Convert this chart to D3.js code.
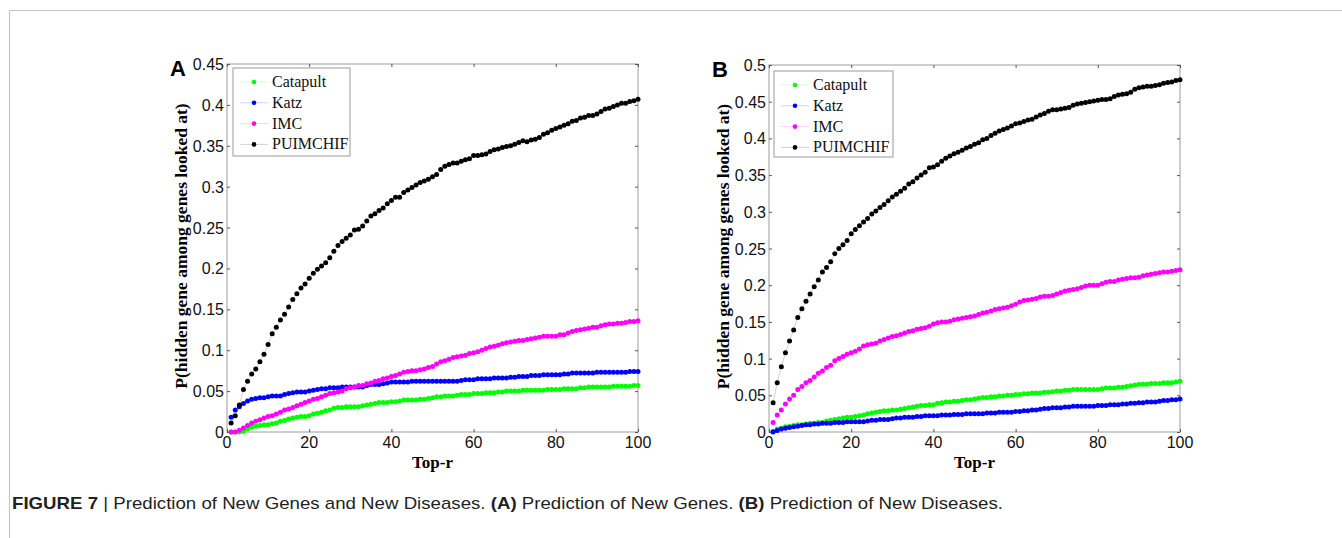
<!DOCTYPE html>
<html>
<head>
<meta charset="utf-8">
<script src="https://cdn.jsdelivr.net/npm/d3@7"></script>
<style>
	body { margin: 0; background: #fff; }
	svg { display: block; }
</style>
</head>
<body>
<div id="chart-area"></div>
<script>

// data (Top-r = 1..100)
var topR = d3.range(1, 101);
var seriesNames = ["Catapult", "Katz", "IMC", "PUIMCHIF"];
var seriesColors = ["#00ff00", "#0000ff", "#ff00ff", "#000000"];
var xTicks = [0, 20, 40, 60, 80, 100];
var yTicksA = [0, 0.05, 0.1, 0.15, 0.2, 0.25, 0.3, 0.35, 0.4, 0.45];
var yTicksB = [0, 0.05, 0.1, 0.15, 0.2, 0.25, 0.3, 0.35, 0.4, 0.45, 0.5];

// panel A: prediction of new genes
var catapultA = [0,0,0,0.001,0.004,0.006,0.007,0.008,0.009,0.009,
	0.010,0.011,0.013,0.014,0.016,0.017,0.018,0.019,0.019,0.020,
	0.022,0.023,0.024,0.026,0.027,0.029,0.030,0.030,0.031,0.031,
	0.031,0.031,0.032,0.033,0.034,0.035,0.036,0.036,0.036,0.037,
	0.037,0.038,0.039,0.039,0.039,0.039,0.040,0.040,0.041,0.042,
	0.043,0.043,0.044,0.044,0.044,0.045,0.046,0.046,0.046,0.047,
	0.047,0.047,0.048,0.048,0.048,0.049,0.049,0.050,0.050,0.050,
	0.050,0.051,0.051,0.051,0.051,0.051,0.051,0.052,0.052,0.052,
	0.052,0.053,0.053,0.053,0.053,0.054,0.054,0.055,0.055,0.055,
	0.055,0.055,0.055,0.056,0.056,0.056,0.056,0.056,0.057,0.057];
var katzA = [0.018,0.027,0.031,0.035,0.038,0.040,0.041,0.042,0.042,0.043,
	0.044,0.044,0.044,0.046,0.047,0.048,0.049,0.049,0.049,0.050,
	0.051,0.052,0.053,0.053,0.054,0.054,0.054,0.055,0.055,0.055,
	0.055,0.055,0.055,0.057,0.058,0.058,0.058,0.059,0.060,0.061,
	0.061,0.061,0.061,0.061,0.062,0.062,0.062,0.062,0.062,0.062,
	0.062,0.062,0.062,0.062,0.062,0.062,0.063,0.064,0.064,0.064,
	0.065,0.065,0.065,0.065,0.066,0.066,0.066,0.066,0.067,0.067,
	0.068,0.068,0.068,0.069,0.069,0.069,0.070,0.070,0.070,0.070,
	0.070,0.071,0.071,0.072,0.072,0.072,0.072,0.072,0.072,0.073,
	0.073,0.073,0.073,0.073,0.073,0.073,0.073,0.074,0.074,0.074];
var imcA = [0,0,0.002,0.005,0.008,0.011,0.013,0.015,0.017,0.019,
	0.020,0.022,0.024,0.027,0.028,0.030,0.032,0.034,0.036,0.038,
	0.040,0.041,0.043,0.045,0.047,0.048,0.049,0.050,0.053,0.054,
	0.055,0.057,0.057,0.059,0.060,0.062,0.063,0.065,0.066,0.068,
	0.069,0.071,0.073,0.074,0.075,0.075,0.076,0.077,0.079,0.080,
	0.083,0.086,0.087,0.089,0.091,0.092,0.093,0.094,0.096,0.097,
	0.098,0.100,0.102,0.104,0.105,0.106,0.108,0.109,0.110,0.111,
	0.112,0.112,0.113,0.114,0.115,0.116,0.117,0.117,0.117,0.117,
	0.119,0.119,0.121,0.123,0.124,0.125,0.126,0.127,0.128,0.128,
	0.130,0.131,0.132,0.132,0.133,0.133,0.134,0.135,0.135,0.136];
var puimchifA = [0.011,0.020,0.033,0.052,0.062,0.071,0.077,0.086,0.095,0.107,
	0.120,0.128,0.137,0.144,0.153,0.162,0.169,0.176,0.181,0.188,
	0.194,0.199,0.203,0.207,0.213,0.221,0.228,0.233,0.237,0.241,
	0.247,0.248,0.252,0.258,0.264,0.267,0.271,0.274,0.279,0.283,
	0.287,0.287,0.293,0.296,0.299,0.302,0.305,0.307,0.309,0.312,
	0.315,0.321,0.325,0.327,0.329,0.329,0.331,0.333,0.334,0.338,
	0.338,0.339,0.340,0.343,0.345,0.346,0.348,0.349,0.350,0.352,
	0.354,0.356,0.355,0.357,0.358,0.360,0.364,0.366,0.369,0.371,
	0.373,0.375,0.377,0.380,0.381,0.384,0.385,0.387,0.387,0.389,
	0.392,0.395,0.396,0.398,0.400,0.402,0.402,0.404,0.405,0.407];

// panel B: prediction of new diseases
var catapultB = [0.001,0.004,0.005,0.007,0.008,0.009,0.010,0.010,0.011,0.012,
	0.012,0.013,0.013,0.015,0.016,0.017,0.018,0.019,0.020,0.020,
	0.021,0.022,0.023,0.025,0.026,0.027,0.028,0.029,0.029,0.030,
	0.030,0.031,0.032,0.033,0.034,0.035,0.036,0.036,0.037,0.037,
	0.039,0.040,0.041,0.041,0.042,0.042,0.043,0.044,0.044,0.045,
	0.046,0.047,0.047,0.048,0.048,0.049,0.049,0.050,0.050,0.051,
	0.051,0.052,0.052,0.053,0.053,0.053,0.054,0.054,0.055,0.056,
	0.056,0.057,0.057,0.058,0.058,0.058,0.058,0.058,0.058,0.058,
	0.059,0.060,0.060,0.060,0.061,0.061,0.062,0.063,0.064,0.065,
	0.065,0.065,0.066,0.066,0.066,0.067,0.067,0.067,0.068,0.069];
var katzB = [0.000,0.002,0.004,0.005,0.006,0.007,0.008,0.009,0.010,0.010,
	0.011,0.011,0.012,0.012,0.012,0.013,0.013,0.013,0.014,0.014,
	0.014,0.014,0.014,0.015,0.016,0.016,0.017,0.017,0.017,0.018,
	0.019,0.019,0.020,0.020,0.020,0.021,0.021,0.022,0.022,0.022,
	0.022,0.023,0.023,0.023,0.024,0.024,0.024,0.025,0.025,0.025,
	0.025,0.025,0.026,0.026,0.026,0.027,0.027,0.027,0.027,0.028,
	0.028,0.029,0.029,0.030,0.030,0.031,0.032,0.032,0.033,0.033,
	0.033,0.034,0.034,0.035,0.035,0.035,0.035,0.035,0.035,0.036,
	0.036,0.036,0.037,0.037,0.037,0.038,0.038,0.039,0.039,0.040,
	0.040,0.041,0.041,0.041,0.042,0.043,0.043,0.044,0.044,0.045];
var imcB = [0.013,0.023,0.030,0.038,0.045,0.050,0.058,0.062,0.067,0.070,
	0.075,0.080,0.083,0.088,0.091,0.097,0.100,0.103,0.106,0.108,
	0.110,0.113,0.117,0.119,0.120,0.121,0.124,0.126,0.128,0.130,
	0.131,0.133,0.135,0.137,0.138,0.140,0.141,0.142,0.144,0.147,
	0.149,0.150,0.150,0.151,0.153,0.154,0.155,0.156,0.157,0.158,
	0.160,0.162,0.163,0.165,0.167,0.168,0.169,0.170,0.172,0.174,
	0.177,0.179,0.180,0.181,0.182,0.184,0.185,0.185,0.186,0.188,
	0.190,0.192,0.193,0.194,0.195,0.197,0.199,0.200,0.200,0.200,
	0.202,0.204,0.205,0.205,0.207,0.208,0.209,0.210,0.210,0.211,
	0.213,0.214,0.215,0.216,0.217,0.218,0.218,0.219,0.220,0.221];
var puimchifB = [0.040,0.067,0.089,0.108,0.124,0.139,0.156,0.168,0.178,0.188,
	0.198,0.207,0.218,0.224,0.232,0.243,0.250,0.255,0.261,0.270,
	0.276,0.281,0.286,0.291,0.297,0.301,0.306,0.310,0.315,0.320,
	0.324,0.328,0.332,0.338,0.341,0.346,0.350,0.354,0.360,0.361,
	0.364,0.369,0.373,0.376,0.379,0.381,0.384,0.387,0.389,0.392,
	0.394,0.398,0.400,0.404,0.407,0.410,0.412,0.414,0.417,0.420,
	0.421,0.423,0.425,0.426,0.429,0.432,0.434,0.437,0.439,0.439,
	0.440,0.441,0.442,0.445,0.447,0.448,0.449,0.450,0.451,0.452,
	0.453,0.453,0.454,0.457,0.459,0.460,0.461,0.463,0.467,0.469,
	0.470,0.471,0.471,0.472,0.473,0.475,0.476,0.477,0.479,0.480];

var width = 1342,
	height = 538;

var svg = d3.select("#chart-area").append("svg")
	.attr("width", width)
	.attr("height", height);

// figure frame (top and left rules)
svg.append("line")
	.attr("x1", 9.5).attr("x2", width)
	.attr("y1", 10.5).attr("y2", 10.5)
	.attr("stroke", "#c4c4c4").attr("stroke-width", 1.2);
svg.append("line")
	.attr("x1", 9.5).attr("x2", 9.5)
	.attr("y1", 10.5).attr("y2", height)
	.attr("stroke", "#c4c4c4").attr("stroke-width", 1.2);

var panels = [
	{letter: "A", left: 227, right: 638, top: 64, bottom: 432, yMax: 0.45, yTicks: yTicksA,
		series: [catapultA, katzA, imcA, puimchifA],
		legend: {x: 233, y: 68, w: 117, h: 88}},
	{letter: "B", left: 769, right: 1180, top: 65, bottom: 432, yMax: 0.5, yTicks: yTicksB,
		series: [catapultB, katzB, imcB, puimchifB],
		legend: {x: 774, y: 71, w: 119, h: 86}}
];

var fmt = function(d) { return d === 0 ? "0" : String(+d.toFixed(2)); };

var drawPanel = function(p) {
	var x = d3.scaleLinear().domain([0, 100]).range([p.left, p.right]);
	var y = d3.scaleLinear().domain([0, p.yMax]).range([p.bottom, p.top]);
	var g = svg.append("g");

	// axes box
	g.append("rect")
		.attr("x", p.left).attr("y", p.top)
		.attr("width", p.right - p.left).attr("height", p.bottom - p.top)
		.attr("fill", "none").attr("stroke", "#b4b4b4").attr("stroke-width", 1.3);

	// inward ticks on all four sides
	var axB = d3.axisBottom(x).tickValues(xTicks).tickSize(-3).tickFormat("");
	var axT = d3.axisTop(x).tickValues(xTicks).tickSize(-3).tickFormat("");
	var axL = d3.axisLeft(y).tickValues(p.yTicks).tickSize(-3).tickFormat("");
	var axR = d3.axisRight(y).tickValues(p.yTicks).tickSize(-3).tickFormat("");
	[[axB, "translate(0," + p.bottom + ")"], [axT, "translate(0," + p.top + ")"],
		[axL, "translate(" + p.left + ",0)"], [axR, "translate(" + p.right + ",0)"]].forEach(function(a) {
		var ag = g.append("g").attr("transform", a[1]).call(a[0]);
		ag.select(".domain").remove();
		ag.selectAll("line").attr("stroke", "#555");
	});

	// tick labels
	g.selectAll(".xlab").data(xTicks).enter().append("text")
		.attr("x", function(d) { return x(d); })
		.attr("y", p.bottom + 16)
		.attr("text-anchor", "middle")
		.attr("font-family", "Liberation Sans, Arial, sans-serif")
		.attr("font-size", 16)
		.attr("fill", "#111")
		.text(fmt);
	g.selectAll(".ylab").data(p.yTicks).enter().append("text")
		.attr("x", p.left - 3)
		.attr("y", function(d) { return y(d) + 6; })
		.attr("text-anchor", "end")
		.attr("font-family", "Liberation Sans, Arial, sans-serif")
		.attr("font-size", 16)
		.attr("fill", "#111")
		.text(fmt);

	// axis titles
	g.append("text")
		.attr("x", (p.left + p.right) / 2)
		.attr("y", p.bottom + 36)
		.attr("text-anchor", "middle")
		.attr("font-family", "Liberation Serif, Times New Roman, serif")
		.attr("font-weight", "bold")
		.attr("font-size", 17)
		.text("Top-r");
	g.append("text")
		.attr("transform", "translate(" + (p.left - 40) + "," + ((p.top + p.bottom) / 2 - 2) + ") rotate(-90)")
		.attr("text-anchor", "middle")
		.attr("font-family", "Liberation Serif, Times New Roman, serif")
		.attr("font-weight", "bold")
		.attr("font-size", 17.5)
		.text("P(hidden gene among genes looked at)");

	// panel letter
	g.append("text")
		.attr("x", p.left - 57)
		.attr("y", p.top + 12)
		.attr("font-family", "Liberation Sans, Arial, sans-serif")
		.attr("font-weight", "bold")
		.attr("font-size", 22)
		.text(p.letter);

	// series: faint connecting line + dots
	var line = d3.line()
		.x(function(d, i) { return x(topR[i]); })
		.y(function(d) { return y(d); });

	p.series.forEach(function(s, k) {
		g.append("path")
			.datum(s)
			.attr("d", line)
			.attr("fill", "none")
			.attr("stroke", seriesColors[k])
			.attr("stroke-opacity", k === 3 ? 0.18 : 0.15)
			.attr("stroke-width", 1);
		g.selectAll(".dot" + k)
			.data(s)
			.enter()
			.append("circle")
			.attr("cx", function(d, i) { return x(topR[i]); })
			.attr("cy", function(d) { return y(d); })
			.attr("r", 2.5)
			.attr("fill", seriesColors[k]);
	});

	// legend
	var lg = g.append("g");
	lg.append("rect")
		.attr("x", p.legend.x).attr("y", p.legend.y)
		.attr("width", p.legend.w).attr("height", p.legend.h)
		.attr("fill", "#fff").attr("stroke", "#9a9a9a").attr("stroke-width", 1);
	seriesNames.forEach(function(name, k) {
		var ly = p.legend.y + 14 + k * 20.8;
		lg.append("line")
			.attr("x1", p.legend.x + 7).attr("x2", p.legend.x + 35)
			.attr("y1", ly).attr("y2", ly)
			.attr("stroke", seriesColors[k]).attr("stroke-opacity", 0.18);
		lg.append("circle")
			.attr("cx", p.legend.x + 21).attr("cy", ly).attr("r", 2.3)
			.attr("fill", seriesColors[k]);
		lg.append("text")
			.attr("x", p.legend.x + 39)
			.attr("y", ly + 5)
			.attr("font-family", "Liberation Serif, Times New Roman, serif")
			.attr("font-size", 16)
			.attr("fill", "#111")
			.text(name);
	});
};

panels.forEach(drawPanel);

// caption
var cap = svg.append("text")
	.attr("x", 12)
	.attr("y", 509)
	.attr("font-family", "Liberation Sans, Arial, sans-serif")
	.attr("font-size", 17)
	.attr("fill", "#231f20")
	.attr("textLength", 991)
	.attr("lengthAdjust", "spacingAndGlyphs");
cap.append("tspan").attr("font-weight", "bold").text("FIGURE 7");
cap.append("tspan").text(" | Prediction of New Genes and New Diseases. ");
cap.append("tspan").attr("font-weight", "bold").text("(A)");
cap.append("tspan").text(" Prediction of New Genes. ");
cap.append("tspan").attr("font-weight", "bold").text("(B)");
cap.append("tspan").text(" Prediction of New Diseases.");

</script>
</body>
</html>
